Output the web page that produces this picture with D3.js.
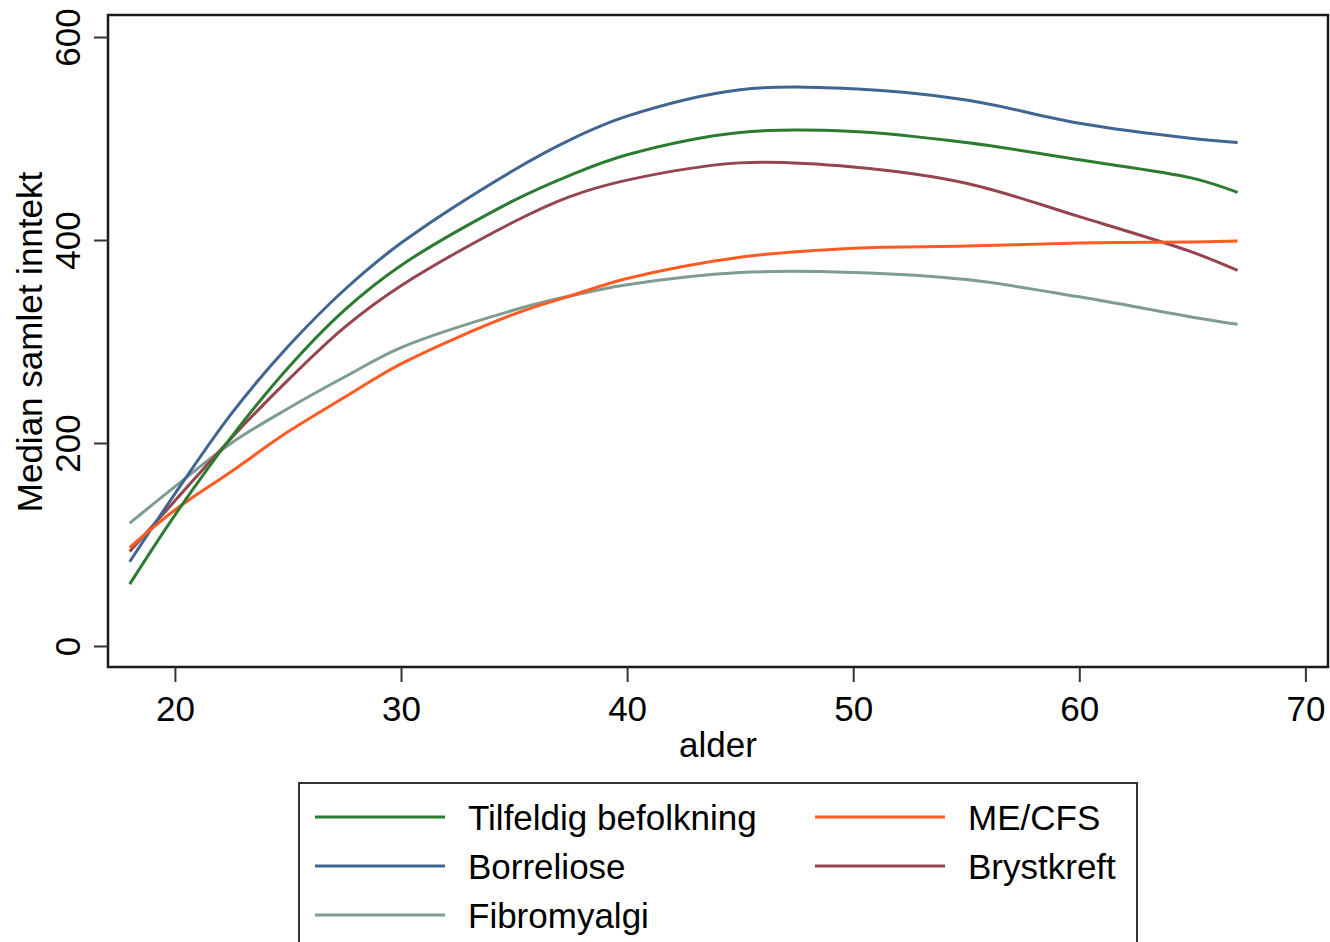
<!DOCTYPE html>
<html>
<head>
<meta charset="utf-8">
<script src="https://cdn.jsdelivr.net/npm/d3@7"></script>
<style>
  body { margin: 0; background: #fff; }
  svg text { font-family: "Liberation Sans", Arial, sans-serif; fill: #000; }
</style>
</head>
<body>
<div id="chart"></div>
<script>
const ages = [18, 20, 22.5, 25, 27.5, 30, 35, 37.5, 40, 45, 50, 55, 60, 65, 67];
const tilfeldig = [61, 129, 206, 274, 331, 375, 439, 464, 484, 506, 507, 496, 479, 461, 447];
const borreliose = [83, 150, 229, 295, 351, 397, 469, 499, 522, 548, 549, 538, 515, 500, 496];
const brystkreft = [93, 143, 205, 262, 314, 355, 418, 443, 459, 476, 472, 456, 423, 388, 370];
const mecfs = [97, 134, 172, 211, 245, 278, 327, 345, 362, 383, 392, 394, 397, 398, 399];
const fibromyalgi = [121, 157, 200, 234, 265, 294, 331, 345, 356, 368, 368, 361, 344, 324, 317];

const xTicks = [20, 30, 40, 50, 60, 70];
const yTicks = [0, 200, 400, 600];

const series = [
  { name: 'Tilfeldig befolkning', values: tilfeldig, color: '#2b7b30' },
  { name: 'ME/CFS', values: mecfs, color: '#ff5b22' },
  { name: 'Borreliose', values: borreliose, color: '#3f6592' },
  { name: 'Brystkreft', values: brystkreft, color: '#95454f' },
  { name: 'Fibromyalgi', values: fibromyalgi, color: '#7e9c8f' }
];

const W = 1330, H = 942;
const plot = { left: 108, right: 1328, top: 15, bottom: 667 };

const svg = d3.select('#chart').append('svg')
  .attr('width', W).attr('height', H);

const x = d3.scaleLinear().domain([17.04, 71.0]).range([plot.left, plot.right]);
const y = d3.scaleLinear().domain([-20.7, 621.7]).range([plot.bottom, plot.top]);

const line = d3.line()
  .x((d, i) => x(ages[i]))
  .y(d => y(d))
  .curve(d3.curveCatmullRom.alpha(0.5));

svg.append('g').selectAll('path')
  .data(series.slice().reverse())
  .enter().append('path')
  .attr('d', d => line(d.values))
  .attr('fill', 'none')
  .attr('stroke', d => d.color)
  .attr('stroke-width', 3);

// frame
svg.append('rect')
  .attr('x', plot.left).attr('y', plot.top)
  .attr('width', plot.right - plot.left)
  .attr('height', plot.bottom - plot.top)
  .attr('fill', 'none')
  .attr('stroke', '#1a1a1a')
  .attr('stroke-width', 2.5);

// x axis
const xAxis = svg.append('g')
  .attr('transform', `translate(0,${plot.bottom})`)
  .call(d3.axisBottom(x).tickValues(xTicks).tickSize(15).tickPadding(14).tickFormat(d3.format('d')));
xAxis.select('.domain').remove();
xAxis.selectAll('line').attr('stroke', '#333').attr('stroke-width', 2);
xAxis.selectAll('text').attr('font-size', 35).attr('fill', '#000');

// y axis
const yAxis = svg.append('g')
  .attr('transform', `translate(${plot.left},0)`)
  .call(d3.axisLeft(y).tickValues(yTicks).tickSize(14).tickFormat(d3.format('d')));
yAxis.select('.domain').remove();
yAxis.selectAll('line').attr('stroke', '#333').attr('stroke-width', 2);
yAxis.selectAll('text')
  .attr('font-size', 35)
  .attr('fill', '#000')
  .attr('x', null).attr('dy', null)
  .attr('text-anchor', 'middle')
  .attr('transform', 'translate(-28,0) rotate(-90)');

// axis titles
svg.append('text')
  .attr('x', (plot.left + plot.right) / 2)
  .attr('y', 757)
  .attr('text-anchor', 'middle')
  .attr('font-size', 35)
  .text('alder');

svg.append('text')
  .attr('transform', 'translate(42,342) rotate(-90)')
  .attr('text-anchor', 'middle')
  .attr('font-size', 35)
  .text('Median samlet inntekt');

// legend
const legend = svg.append('g');
legend.append('rect')
  .attr('x', 299).attr('y', 783)
  .attr('width', 838).attr('height', 200)
  .attr('fill', '#fff')
  .attr('stroke', '#333')
  .attr('stroke-width', 2);

const colX = [315, 815];
const rowY = [817, 866, 915];
series.forEach((s, i) => {
  const cx = colX[i % 2];
  const cy = rowY[Math.floor(i / 2)];
  legend.append('line')
    .attr('x1', cx).attr('x2', cx + 130)
    .attr('y1', cy).attr('y2', cy)
    .attr('stroke', s.color)
    .attr('stroke-width', 3);
  legend.append('text')
    .attr('x', cx + 153)
    .attr('y', cy + 13)
    .attr('font-size', 35)
    .text(s.name);
});
</script>
</body>
</html>
